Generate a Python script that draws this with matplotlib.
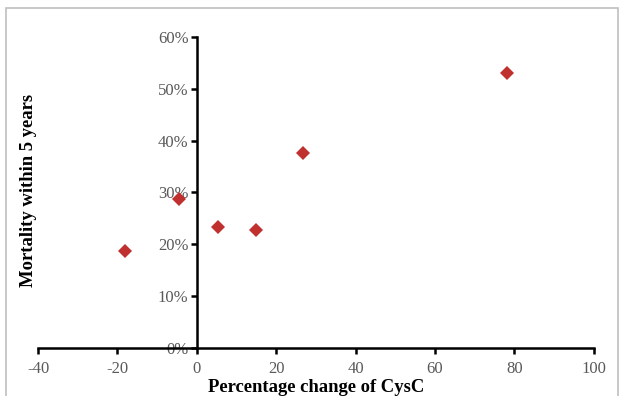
import matplotlib
matplotlib.use("Agg")
import matplotlib.pyplot as plt
from matplotlib.patches import Rectangle
from matplotlib.ticker import FuncFormatter

# data
pct_change = [-18.0, -4.5, 5.3, 14.8, 26.8, 78.2]
mortality  = [18.8, 28.7, 23.4, 22.8, 37.6, 53.1]

x_ticks = [-40, -20, 0, 20, 40, 60, 80, 100]
y_ticks = [0, 10, 20, 30, 40, 50, 60]

plt.rcParams["font.family"] = ["Liberation Serif", "DejaVu Serif"]
plt.rcParams["axes.unicode_minus"] = False

fig = plt.figure(figsize=(6.23, 3.96), dpi=100)
ax = fig.add_axes([0.061, 0.121, 0.892, 0.786])

ax.plot(pct_change, mortality, "D", color="#C0302E", markersize=7, markeredgewidth=0)

ax.set_xlim(-40, 100)
ax.set_ylim(0, 60)
ax.set_xticks(x_ticks)
ax.set_yticks(y_ticks)
ax.yaxis.set_major_formatter(FuncFormatter(lambda v, p: f"{v:.0f}%"))

for side in ["top", "right"]:
    ax.spines[side].set_visible(False)
ax.spines["left"].set_position(("data", 0))
ax.spines["bottom"].set_position(("data", 0))
ax.spines["left"].set_linewidth(1.8)
ax.spines["bottom"].set_linewidth(1.8)
ax.tick_params(axis="both", direction="out", length=4, width=1.8,
               labelsize=12, labelcolor="#595959")
ax.tick_params(axis="x", pad=5)
ax.tick_params(axis="y", pad=2)

fig.text(0.507, 0.022, "Percentage change of CysC", ha="center", va="center",
         fontsize=13.4, fontweight="bold")
fig.text(0.045, 0.52, "Mortality within 5 years", ha="center", va="center",
         rotation=90, fontsize=13.4, fontweight="bold")

fig.patches.append(Rectangle((0.01, -0.02), 0.982, 1.0, transform=fig.transFigure,
                             fill=False, edgecolor="#BFBFBF", linewidth=1.2))

fig.savefig("out.png", dpi=100)
